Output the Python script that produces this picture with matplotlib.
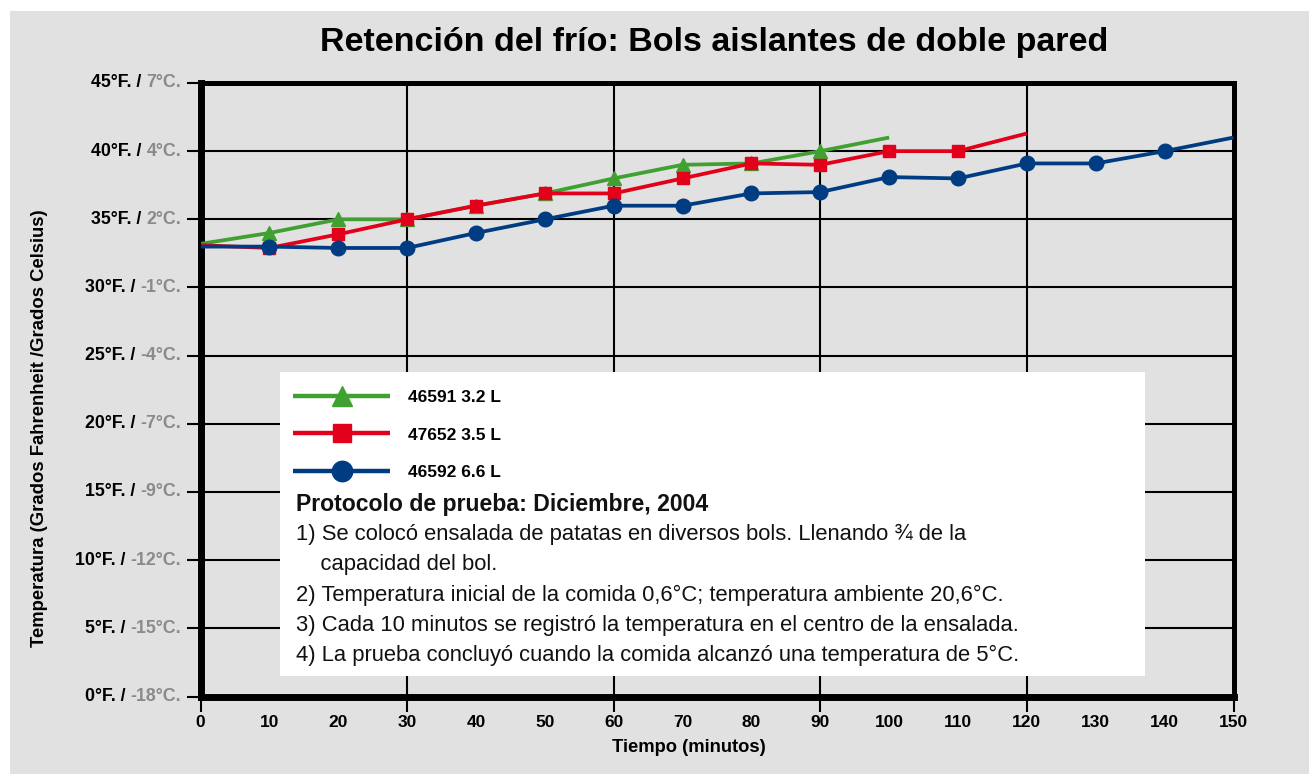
import numpy as np
import matplotlib
matplotlib.use('Agg')
import matplotlib.pyplot as plt
from matplotlib.patches import Rectangle

plt.rcParams['font.family'] = ['Liberation Sans', 'DejaVu Sans']

# data ---------------------------
minutes = [0, 10, 20, 30, 40, 50, 60, 70, 80, 90, 100, 110, 120, 130, 140, 150]

bol_46591 = [33.2, 34.0, 35.0, 35.0, 36.0, 36.9, 38.0, 39.0, 39.1, 40.0, 41.0]
bol_47652 = [33.1, 32.9, 33.9, 35.0, 36.0, 36.9, 36.9, 38.0, 39.1, 39.0, 40.0, 40.0, 41.3]
bol_46592 = [33.0, 33.0, 32.9, 32.9, 34.0, 35.0, 36.0, 36.0, 36.9, 37.0, 38.1, 38.0, 39.1, 39.1, 40.0, 41.0]

series_labels = ['46591 3.2 L', '47652 3.5 L', '46592 6.6 L']

temp_f = [0, 5, 10, 15, 20, 25, 30, 35, 40, 45]
temp_c = [-18, -15, -12, -9, -7, -4, -1, 2, 4, 7]

title = 'Retención del frío: Bols aislantes de doble pared'
protocol_head = 'Protocolo de prueba: Diciembre, 2004'
protocol_lines = [
    '1) Se colocó ensalada de patatas en diversos bols. Llenando ¾ de la',
    '    capacidad del bol.',
    '2) Temperatura inicial de la comida 0,6°C; temperatura ambiente 20,6°C.',
    '3) Cada 10 minutos se registró la temperatura en el centro de la ensalada.',
    '4) La prueba concluyó cuando la comida alcanzó una temperatura de 5°C.',
]

# colours ------------------------
BG = '#e1e1e1'
GREEN = '#41a032'
RED = '#e2001a'
BLUE = '#003c82'
GREY = '#8a8a8a'

W, H = 1309, 774
fig = plt.figure(figsize=(W / 100, H / 100), dpi=100)
fig.patch.set_facecolor('white')
fig.patches.append(Rectangle((10 / W, 0), 1, 1 - 11 / H, transform=fig.transFigure,
                             facecolor=BG, edgecolor='none', zorder=-10))

ax_l, ax_r, ax_t, ax_b = 200.5, 1233.5, 83, 696.5
ax = fig.add_axes([ax_l / W, 1 - ax_b / H, (ax_r - ax_l) / W, (ax_b - ax_t) / H])
ax.set_facecolor(BG)
ax.set_xlim(0, 150)
ax.set_ylim(0, 45)

# spines
for side, lw in [('left', 5), ('bottom', 5), ('top', 3.6), ('right', 3.6)]:
    ax.spines[side].set_linewidth(lw)
    ax.spines[side].set_color('black')
    ax.spines[side].set_capstyle('projecting')

# grid: every 5 F, every 30 minutes (major); the other 10-minute labels sit on minor ticks
grid_min = [m for m in minutes if m % 30 == 0]
other_min = [m for m in minutes if m % 30 != 0]
ax.set_yticks(temp_f)
ax.set_yticklabels([])
ax.set_xticks(grid_min)
ax.set_xticks(other_min, minor=True)
ax.set_xticklabels([str(m) for m in other_min], minor=True)
ax.tick_params(axis='x', which='major', length=11, width=1.5, color='black', pad=2,
               labelsize=12.5)
ax.tick_params(axis='x', which='minor', length=0, pad=13, labelsize=12.5)
ax.tick_params(axis='y', which='major', length=10, width=1.5, color='black')
for lab in ax.get_xticklabels() + ax.get_xticklabels(minor=True):
    lab.set_fontweight('bold')
ax.grid(axis='y', color='black', linewidth=1.5)
ax.grid(axis='x', which='major', color='black', linewidth=1.5)
ax.set_axisbelow(True)

# y tick labels in two colours
for f, c in zip(temp_f, temp_c):
    cpart = ax.annotate(f'{c}°C.', xy=(0, f), xycoords=('axes fraction', 'data'),
                        xytext=(-14, 0), textcoords='offset points',
                        ha='right', va='center', fontsize=12.8, fontweight='bold',
                        color=GREY, annotation_clip=False)
    ax.annotate(f'{f}°F. / ', xy=(0, 0.5), xycoords=cpart, ha='right', va='center',
                fontsize=12.8, fontweight='bold', color='black', annotation_clip=False)

# series
n1, n2, n3 = len(bol_46591), len(bol_47652), len(bol_46592)
l1, = ax.plot(minutes[:n1], bol_46591, color=GREEN, lw=2.7, marker='^', ms=10,
              markevery=list(range(1, n1 - 1)), zorder=3, label=series_labels[0],
              solid_capstyle='butt')
l2, = ax.plot(minutes[:n2], bol_47652, color=RED, lw=2.7, marker='s', ms=9,
              markevery=list(range(1, n2 - 1)), zorder=4, label=series_labels[1],
              solid_capstyle='butt')
l3, = ax.plot(minutes[:n3], bol_46592, color=BLUE, lw=2.7, marker='o', ms=10.5,
              markevery=list(range(1, n3 - 1)), zorder=5, label=series_labels[2],
              solid_capstyle='butt')

# white note box
def fx(px):
    return (px - ax_l) / (ax_r - ax_l)

def fy(py):
    return (ax_b - py) / (ax_b - ax_t)

ax.add_patch(Rectangle((fx(280), fy(676)), fx(1145) - fx(280), fy(372) - fy(676),
                       transform=ax.transAxes, facecolor='white', edgecolor='none',
                       zorder=1))

leg = ax.legend(handles=[l1, l2, l3], loc='upper left',
                bbox_to_anchor=(fx(293), fy(390)),
                frameon=False, borderpad=0, borderaxespad=0, handlelength=5.6,
                handletextpad=1.0, labelspacing=1.28, markerscale=1.4,
                prop={'weight': 'bold', 'size': 12.5})
leg.set_zorder(6)
for h in leg.legend_handles:
    h.set_linewidth(3.2)

ax.text(fx(296), fy(505), protocol_head, transform=ax.transAxes,
        ha='left', va='center', fontsize=16.6, fontweight='bold', color='#111111',
        zorder=6)
ax.text(fx(296), fy(595), '\n'.join(protocol_lines), transform=ax.transAxes,
        ha='left', va='center', fontsize=15.8, color='#111111', linespacing=1.58,
        zorder=6)

# titles
fig.text(714.5 / W, 1 - 43 / H, title, ha='center', va='center',
         fontsize=24.5, fontweight='bold')
fig.text(689 / W, 1 - 747 / H, 'Tiempo (minutos)', ha='center', va='center',
         fontsize=13.2, fontweight='bold')
fig.text(40 / W, 1 - 428 / H, 'Temperatura (Grados Fahrenheit /Grados Celsius)',
         ha='center', va='center', rotation=90, fontsize=13.3, fontweight='bold')

fig.savefig('out.png', dpi=100, facecolor=fig.get_facecolor())
